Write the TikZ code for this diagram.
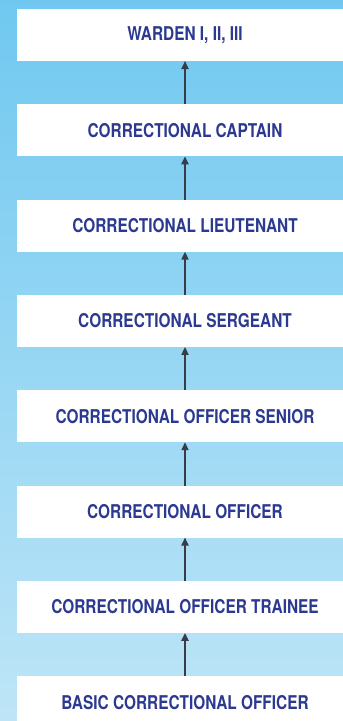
\documentclass[tikz,border=0pt]{standalone}
\usepackage{fontspec}
\usepackage{xcolor}
\usetikzlibrary{arrows.meta,positioning}
\newfontfamily\rankfont[FakeStretch=0.81]{TeX Gyre Heros}
\definecolor{rankblue}{RGB}{43,57,144}
\definecolor{skytop}{RGB}{112,200,240}
\definecolor{skybottom}{RGB}{190,229,247}
\definecolor{arrowgray}{RGB}{55,60,70}

\begin{document}
\begin{tikzpicture}[
      node distance=43.3pt,
      every node/.style={font=\rankfont\bfseries\fontsize{19}{22}\selectfont},
      rank/.style={
        fill=white, text=rankblue, align=center,
        minimum width=336pt, minimum height=52pt,
        inner sep=0pt, outer sep=0pt
      },
      arrow/.style={-{Triangle[length=8pt,width=7pt]}, line width=1.8pt, draw=arrowgray}
    ]
    \useasboundingbox (0,0) rectangle (343pt,-721pt);
    \shade[top color=skytop, bottom color=skybottom] (0,0) rectangle (343pt,-721pt);

    \node[rank] (warden) at (185pt,-35pt) {WARDEN I, II, III};
    \node[rank, below=of warden] (captain) {CORRECTIONAL CAPTAIN};
    \node[rank, below=of captain] (lieutenant) {CORRECTIONAL LIEUTENANT};
    \node[rank, below=of lieutenant] (sergeant) {CORRECTIONAL SERGEANT};
    \node[rank, below=of sergeant] (senior) {CORRECTIONAL OFFICER SENIOR};
    \node[rank, below=of senior] (officer) {CORRECTIONAL OFFICER};
    \node[rank, below=of officer] (trainee) {CORRECTIONAL OFFICER TRAINEE};
    \node[rank, below=of trainee] (basic) {BASIC CORRECTIONAL OFFICER};

    \draw[arrow] (captain)    -- (warden);
    \draw[arrow] (lieutenant) -- (captain);
    \draw[arrow] (sergeant)   -- (lieutenant);
    \draw[arrow] (senior)     -- (sergeant);
    \draw[arrow] (officer)    -- (senior);
    \draw[arrow] (trainee)    -- (officer);
    \draw[arrow] (basic)      -- (trainee);
  \end{tikzpicture}
\end{document}
